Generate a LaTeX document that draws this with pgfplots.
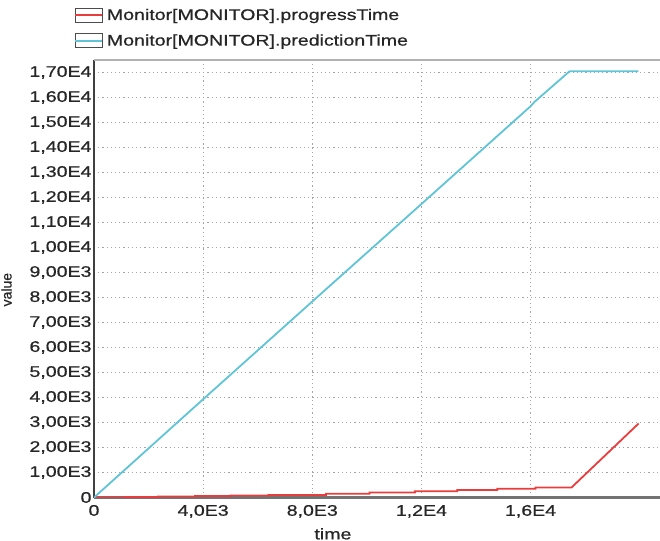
\documentclass[border=0pt]{standalone}
\usepackage{fontspec}
\setmainfont{Liberation Sans}[FakeStretch=1.27,FakeBold=0.7]
\newfontfamily\plainfont{Liberation Sans}[FakeBold=0.7]
\usepackage{pgfplots}
\pgfplotsset{compat=1.18}
\definecolor{cyanl}{RGB}{95,196,214}
\definecolor{redl}{RGB}{234,60,60}
\begin{document}
\begin{tikzpicture}
\begin{axis}[
  scale only axis, width=573bp, height=437.5bp,
  xmin=0, xmax=21000, ymin=0, ymax=17500,
  scaled ticks=false,
  axis x line*=bottom, axis y line*=left,
  x axis line style={-, line width=2.5bp, color=black!55},
  y axis line style={-, line width=1.6bp, color=black!75},
  xtick={0,4000,8000,12000,16000},
  xticklabels={0,{4,0E3},{8,0E3},{1,2E4},{1,6E4}},
  ytick={0,1000,2000,3000,4000,5000,6000,7000,8000,9000,10000,11000,12000,13000,14000,15000,16000,17000},
  yticklabels={0,{1,00E3},{2,00E3},{3,00E3},{4,00E3},{5,00E3},{6,00E3},{7,00E3},{8,00E3},{9,00E3},{1,00E4},{1,10E4},{1,20E4},{1,30E4},{1,40E4},{1,50E4},{1,60E4},{1,70E4}},
  major tick length=0pt,
  xticklabel style={yshift=-4bp},
  yticklabel style={xshift=1bp},
  grid=major,
  major grid style={dash pattern=on 1.2bp off 3bp, color=black!35, line width=0.8bp},
  tick label style={font=\fontsize{15.4bp}{18bp}\selectfont, text=black!85},
  xlabel={time},
  xlabel style={at={(axis description cs:0.417,-0.0697)}, anchor=north, inner sep=0pt, font=\fontsize{15.4bp}{18bp}\selectfont, text=black!85},
  ylabel={value},
  ylabel style={at={(axis description cs:-0.1527,0.475)}, anchor=center, inner sep=0pt, font=\plainfont\fontsize{14bp}{16bp}\selectfont, text=black!85},
  legend style={at={(axis description cs:-0.035,1.122)}, anchor=north west, draw=none, fill=none,
     font=\fontsize{15.4bp}{18bp}\selectfont, text=black!85, row sep=9bp, inner sep=0pt,
     /tikz/every odd column/.append style={column sep=2bp}},
  legend cell align=left,
  legend image code/.code={
     \draw[black!70, line width=0.6bp, fill=white] (0bp,-7bp) rectangle (27bp,7bp);
     \draw[#1] (0bp,0bp) -- (27bp,0bp);
  },
]
\draw[black!30, line width=2bp] (rel axis cs:0,1) -- (rel axis cs:1,1);
\addplot[redl, line width=1.8bp] coordinates {
 (0,0) (1150,0) (1150,20) (2350,20) (2350,40) (3700,40) (3700,60) (5000,60) (5000,80)
 (6400,80) (6400,100) (8500,100) (8500,150) (10100,150) (10100,200) (11760,200) (11760,250)
 (13310,250) (13310,300) (14780,300) (14780,350) (16180,350) (16180,400) (17500,400) (19960,2960)
};
\addlegendentry{Monitor[MONITOR].progressTime}
\addplot[cyanl, line width=1.8bp] coordinates {
 (0,0) (4000,3930) (8000,7840) (12000,11740) (16000,15650) (16150,15830) (17430,17050) (19950,17050)
};
\addlegendentry{Monitor[MONITOR].predictionTime}
\end{axis}
\pgfresetboundingbox
\path[use as bounding box] (-94bp,-43.5bp) rectangle (566bp,497.5bp);
\end{tikzpicture}
\end{document}
